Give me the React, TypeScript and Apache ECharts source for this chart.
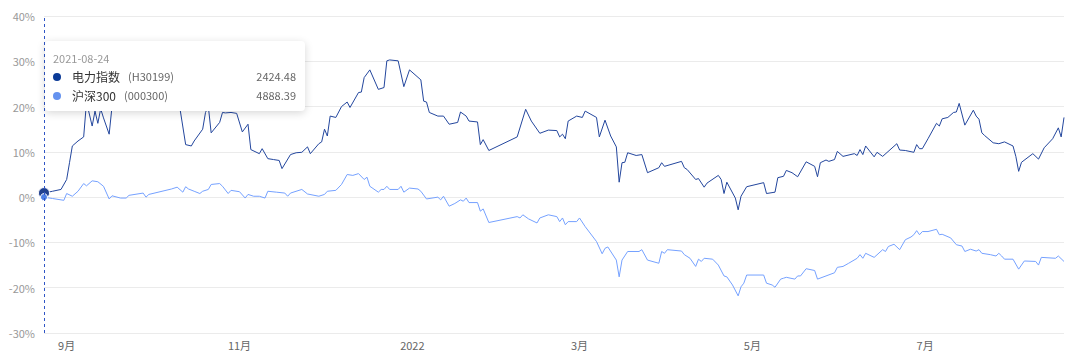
import React, { useEffect, useRef } from "react";
import * as echarts from "echarts";

// 电力指数 (H30199) – cumulative change, %
const dates1 = [
  "2021-08-24","2021-08-27","2021-08-30","2021-09-01","2021-09-02","2021-09-03","2021-09-05","2021-09-07","2021-09-08","2021-09-10",
  "2021-09-11","2021-09-12","2021-09-13","2021-09-14","2021-09-16","2021-09-17","2021-09-19","2021-09-22","2021-09-24","2021-09-27",
  "2021-09-30","2021-10-08","2021-10-10","2021-10-11","2021-10-13","2021-10-15","2021-10-16","2021-10-19","2021-10-20","2021-10-21",
  "2021-10-22","2021-10-25","2021-10-26","2021-10-27","2021-10-29","2021-10-31","2021-11-02","2021-11-04","2021-11-05","2021-11-08",
  "2021-11-09","2021-11-11","2021-11-13","2021-11-15","2021-11-16","2021-11-19","2021-11-21","2021-11-23","2021-11-25","2021-11-26",
  "2021-11-29","2021-11-30","2021-12-01","2021-12-02","2021-12-03","2021-12-05","2021-12-07","2021-12-09","2021-12-10","2021-12-13",
  "2021-12-14","2021-12-15","2021-12-17","2021-12-20","2021-12-22","2021-12-23","2021-12-24","2021-12-27","2021-12-29","2021-12-31",
  "2022-01-04","2022-01-05","2022-01-06","2022-01-07","2022-01-10","2022-01-12","2022-01-14","2022-01-17","2022-01-18","2022-01-20",
  "2022-01-21","2022-01-24","2022-01-25","2022-01-26","2022-01-28","2022-02-07","2022-02-10","2022-02-12","2022-02-15","2022-02-18",
  "2022-02-21","2022-02-22","2022-02-23","2022-02-24","2022-02-25","2022-02-28","2022-03-02","2022-03-03","2022-03-07","2022-03-08",
  "2022-03-10","2022-03-12","2022-03-14","2022-03-15","2022-03-16","2022-03-17","2022-03-18","2022-03-21","2022-03-23","2022-03-25",
  "2022-03-29","2022-03-30","2022-03-31","2022-04-06","2022-04-07","2022-04-08","2022-04-11","2022-04-12","2022-04-14","2022-04-15",
  "2022-04-19","2022-04-20","2022-04-21","2022-04-22","2022-04-25","2022-04-26","2022-04-27","2022-04-29","2022-05-05","2022-05-06",
  "2022-05-09","2022-05-10","2022-05-12","2022-05-13","2022-05-15","2022-05-17","2022-05-20","2022-05-23","2022-05-24","2022-05-25",
  "2022-05-27","2022-05-28","2022-05-30","2022-05-31","2022-06-02","2022-06-06","2022-06-07","2022-06-08","2022-06-09","2022-06-10",
  "2022-06-13","2022-06-14","2022-06-16","2022-06-21","2022-06-22","2022-06-24","2022-06-27","2022-06-28","2022-06-29","2022-06-30",
  "2022-07-02","2022-07-05","2022-07-06","2022-07-07","2022-07-09","2022-07-11","2022-07-12","2022-07-13","2022-07-15","2022-07-18",
  "2022-07-19","2022-07-20","2022-07-21","2022-07-22","2022-07-25","2022-07-27","2022-07-29","2022-08-01","2022-08-02","2022-08-03",
  "2022-08-04","2022-08-08","2022-08-10","2022-08-12","2022-08-15","2022-08-17","2022-08-18","2022-08-19"
];
const values1 = [
  0.9,1.3,1.7,3.9,7.6,11.3,12.4,13.3,21.0,15.7,
  19.0,16.3,19.5,17.5,13.9,20.0,22.0,24.0,21.5,25.0,
  23.0,26.0,22.0,19.5,11.6,11.3,12.4,15.0,18.7,20.0,
  14.2,16.5,18.7,18.6,18.7,18.5,14.4,16.1,10.5,9.6,
  10.7,8.5,8.3,8.1,6.3,9.4,9.8,9.9,11.1,9.6,
  11.8,12.2,15.0,13.5,17.9,17.6,20.0,21.0,19.8,23.1,
  23.2,26.4,28.1,23.8,24.2,30.1,30.3,30.1,24.4,28.1,
  25.9,21.2,21.0,18.7,17.9,17.9,16.1,16.5,18.8,17.9,
  16.8,16.6,11.6,12.7,10.3,13.3,19.4,16.8,14.1,14.8,
  14.7,13.3,13.9,12.9,16.8,17.9,17.6,19.0,17.6,13.3,
  17.0,13.5,11.1,3.3,7.6,7.7,9.8,9.2,9.4,5.4,
  6.5,7.6,6.8,7.9,6.5,6.1,3.9,4.1,2.2,3.1,
  4.8,3.9,0.8,3.3,-0.2,-2.8,0.2,2.3,3.2,0.8,
  1.1,4.3,4.6,5.9,5.4,4.5,7.8,6.8,4.5,7.6,
  8.2,7.9,8.3,10.1,9.0,9.6,9.2,10.5,9.4,11.3,
  8.9,9.9,9.0,11.8,10.4,10.3,9.9,11.6,10.7,10.7,
  12.9,16.3,15.7,17.3,17.6,18.7,18.8,20.7,15.9,19.2,
  17.9,17.2,14.2,13.6,12.0,11.8,12.2,11.3,9.0,5.7,
  7.7,9.6,8.4,10.9,12.9,15.3,13.3,17.6
];

// 沪深300 (000300) – cumulative change, %
const dates2 = [
  "2021-08-24","2021-08-27","2021-08-31","2021-09-01","2021-09-03","2021-09-05","2021-09-07","2021-09-08","2021-09-10","2021-09-12",
  "2021-09-14","2021-09-16","2021-09-17","2021-09-20","2021-09-22","2021-09-23","2021-09-28","2021-09-29","2021-09-30","2021-10-08",
  "2021-10-10","2021-10-12","2021-10-13","2021-10-14","2021-10-16","2021-10-18","2021-10-19","2021-10-21","2021-10-22","2021-10-25",
  "2021-10-26","2021-10-28","2021-10-29","2021-11-01","2021-11-03","2021-11-04","2021-11-06","2021-11-08","2021-11-10","2021-11-11",
  "2021-11-14","2021-11-17","2021-11-18","2021-11-19","2021-11-23","2021-11-25","2021-11-29","2021-12-01","2021-12-02","2021-12-05",
  "2021-12-07","2021-12-09","2021-12-11","2021-12-13","2021-12-15","2021-12-16","2021-12-17","2021-12-20","2021-12-21","2021-12-22",
  "2021-12-23","2021-12-24","2021-12-27","2021-12-28","2021-12-29","2021-12-31","2022-01-03","2022-01-04","2022-01-06","2022-01-10",
  "2022-01-11","2022-01-12","2022-01-14","2022-01-16","2022-01-18","2022-01-19","2022-01-20","2022-01-21","2022-01-24","2022-01-25",
  "2022-01-26","2022-01-28","2022-02-07","2022-02-08","2022-02-09","2022-02-11","2022-02-14","2022-02-15","2022-02-18","2022-02-21",
  "2022-02-22","2022-02-23","2022-02-24","2022-02-25","2022-02-28","2022-03-01","2022-03-03","2022-03-07","2022-03-09","2022-03-10",
  "2022-03-11","2022-03-14","2022-03-15","2022-03-16","2022-03-18","2022-03-22","2022-03-23","2022-03-25","2022-03-29","2022-03-30",
  "2022-03-31","2022-04-01","2022-04-06","2022-04-07","2022-04-09","2022-04-11","2022-04-12","2022-04-13","2022-04-14","2022-04-17",
  "2022-04-19","2022-04-21","2022-04-22","2022-04-24","2022-04-26","2022-04-27","2022-04-28","2022-04-29","2022-05-05","2022-05-06",
  "2022-05-08","2022-05-09","2022-05-11","2022-05-12","2022-05-13","2022-05-16","2022-05-17","2022-05-18","2022-05-20","2022-05-23",
  "2022-05-24","2022-05-27","2022-05-30","2022-05-31","2022-06-02","2022-06-04","2022-06-07","2022-06-08","2022-06-09","2022-06-10",
  "2022-06-13","2022-06-16","2022-06-17","2022-06-18","2022-06-20","2022-06-22","2022-06-24","2022-06-26","2022-06-27","2022-06-28",
  "2022-06-29","2022-06-30","2022-07-02","2022-07-05","2022-07-06","2022-07-07","2022-07-10","2022-07-12","2022-07-14","2022-07-15",
  "2022-07-17","2022-07-19","2022-07-20","2022-07-21","2022-07-24","2022-07-26","2022-07-27","2022-07-28","2022-07-29","2022-08-01",
  "2022-08-03","2022-08-05","2022-08-09","2022-08-10","2022-08-11","2022-08-16","2022-08-17","2022-08-19"
];
const values2 = [
  0.0,-0.3,-0.7,0.8,0.2,1.3,3.0,2.5,3.6,3.4,
  2.4,-0.4,0.3,-0.2,-0.2,0.4,0.9,0.0,0.6,1.8,
  2.2,1.1,2.3,1.8,1.3,0.8,1.3,1.7,2.8,3.0,
  2.4,0.8,1.5,1.2,-0.2,0.6,0.2,0.2,-0.2,1.3,
  1.1,0.9,0.2,0.9,1.7,0.7,0.2,0.6,1.3,1.5,
  2.8,5.0,4.8,5.2,3.9,4.4,2.4,1.1,1.7,1.7,
  2.4,1.7,1.7,2.4,1.1,2.0,1.8,1.3,-0.4,0.0,
  -0.6,0.2,-2.0,-1.4,-0.6,-0.9,-0.2,-1.2,-1.2,-3.1,
  -2.6,-5.6,-4.3,-4.6,-3.9,-4.8,-5.7,-4.6,-3.9,-4.3,
  -5.4,-4.6,-6.1,-5.4,-5.4,-4.6,-6.5,-9.8,-12.5,-11.3,
  -11.0,-13.9,-17.6,-13.9,-12.0,-12.0,-11.6,-13.9,-14.6,-12.0,
  -12.4,-11.6,-11.9,-12.7,-13.5,-15.3,-13.7,-14.2,-13.5,-13.7,
  -15.0,-17.4,-17.6,-19.4,-21.8,-19.8,-19.0,-17.2,-17.2,-19.0,
  -19.4,-19.9,-18.1,-17.9,-17.7,-18.1,-17.4,-17.4,-15.8,-16.2,
  -18.1,-17.4,-16.7,-15.5,-15.3,-14.6,-13.5,-12.7,-13.5,-12.4,
  -13.3,-11.6,-12.0,-10.9,-10.4,-11.6,-9.4,-8.8,-8.3,-7.4,
  -8.3,-7.6,-7.6,-7.1,-8.3,-8.2,-9.0,-10.5,-10.8,-12.0,
  -11.5,-11.9,-11.6,-12.4,-12.7,-13.0,-12.4,-13.0,-13.7,-13.7,
  -15.9,-14.1,-14.2,-15.0,-13.3,-13.5,-13.0,-14.2
];

const seriesNames = ["电力指数", "沪深300"];
const seriesCodes = ["(H30199)", "(000300)"];
const firstCloses = ["2424.48", "4888.39"];
const tipDate = "2021-08-24";
const axisStart = "2021-08-24";
const axisEnd = "2022-08-19";
const colors = ["#20408f", "#6b93ea"];
const dotColors = ["#0b3a97", "#6592ef"];

const FONT = '"Noto Sans CJK SC", "Noto Sans", sans-serif';

export default function App() {
  const ref = useRef<HTMLDivElement>(null);
  useEffect(() => {
    if (!ref.current) return;
    document.body.style.margin = "0";
    const chart = echarts.init(ref.current, undefined, { renderer: "svg" });
    const tipHtml = () => {
      const rows = seriesNames
        .map(
          (n, i) =>
            `<div style="display:flex;align-items:center;line-height:19px;height:19px;">` +
            `<span style="display:inline-block;width:8px;height:8px;border-radius:50%;background:${dotColors[i]};margin-right:11px;"></span>` +
            `<span style="font-size:12px;color:#333;">${n}</span>` +
            `<span style="font-size:11px;color:#666;margin-left:8px;">${seriesCodes[i]}</span>` +
            `<span style="flex:1"></span>` +
            `<span style="font-size:11px;color:#666;">${firstCloses[i]}</span></div>`
        )
        .join("");
      return (
        `<div style="width:243px;font-family:${FONT.replace(/"/g, "'")};">` +
        `<div style="font-size:11px;color:#999;line-height:18px;height:18px;">${tipDate}</div>` +
        rows +
        `</div>`
      );
    };
    chart.setOption({
      animation: false,
      textStyle: { fontFamily: FONT },
      grid: { left: 44, right: 16, top: 16, bottom: 22 },
      tooltip: {
        trigger: "axis",
        alwaysShowContent: true,
        transitionDuration: 0,
        backgroundColor: "#fff",
        borderWidth: 0,
        padding: [8, 9, 6, 8],
        extraCssText: "box-shadow:0 2px 8px rgba(0,0,0,0.16);border-radius:4px;",
        position: () => [45, 41],
        formatter: tipHtml,
        axisPointer: {
          type: "line",
          lineStyle: { color: "#2f55c6", type: [3, 3], width: 1 },
        },
      },
      xAxis: {
        type: "time",
        min: axisStart,
        max: axisEnd,
        splitNumber: 5,
        axisLine: { show: false },
        axisTick: { show: false },
        splitLine: { show: false },
        axisLabel: {
          color: "#666",
          fontSize: 11,
          margin: 6,
          formatter: (v: number) => {
            const d = new Date(v);
            const m = d.getMonth() + 1;
            return m === 1 ? String(d.getFullYear()) : m + "月";
          },
        },
      },
      yAxis: {
        type: "value",
        min: -30,
        max: 40,
        interval: 10,
        axisLine: { show: false },
        axisTick: { show: false },
        axisLabel: { formatter: "{value}%", color: "#999", fontSize: 11, margin: 9 },
        splitLine: { lineStyle: { color: "#ebebeb", width: 1 } },
      },
      series: [
        {
          name: seriesNames[0],
          type: "line",
          data: dates1.map((d, i) => [d, values1[i]]),
          showSymbol: false,
          symbol: "circle",
          symbolSize: 11,
          itemStyle: { color: colors[0], borderColor: "#fff", borderWidth: 1 },
          lineStyle: { width: 1, color: colors[0] },
          emphasis: { scale: false, lineStyle: { width: 1 } },
          z: 3,
        },
        {
          name: seriesNames[1],
          type: "line",
          data: dates2.map((d, i) => [d, values2[i]]),
          showSymbol: false,
          symbol: "circle",
          symbolSize: 7,
          itemStyle: { color: "#4d7fe6", borderColor: "#fff", borderWidth: 1 },
          lineStyle: { width: 1, color: colors[1] },
          emphasis: { scale: false, lineStyle: { width: 1 } },
          z: 4,
        },
      ],
    });
    chart.dispatchAction({ type: "showTip", seriesIndex: 0, dataIndex: 0 });
    return () => chart.dispose();
  }, []);
  return (
    <div
      ref={ref}
      style={{ position: "fixed", left: 0, top: 0, width: 1080, height: 355, background: "#fff" }}
    />
  );
}
